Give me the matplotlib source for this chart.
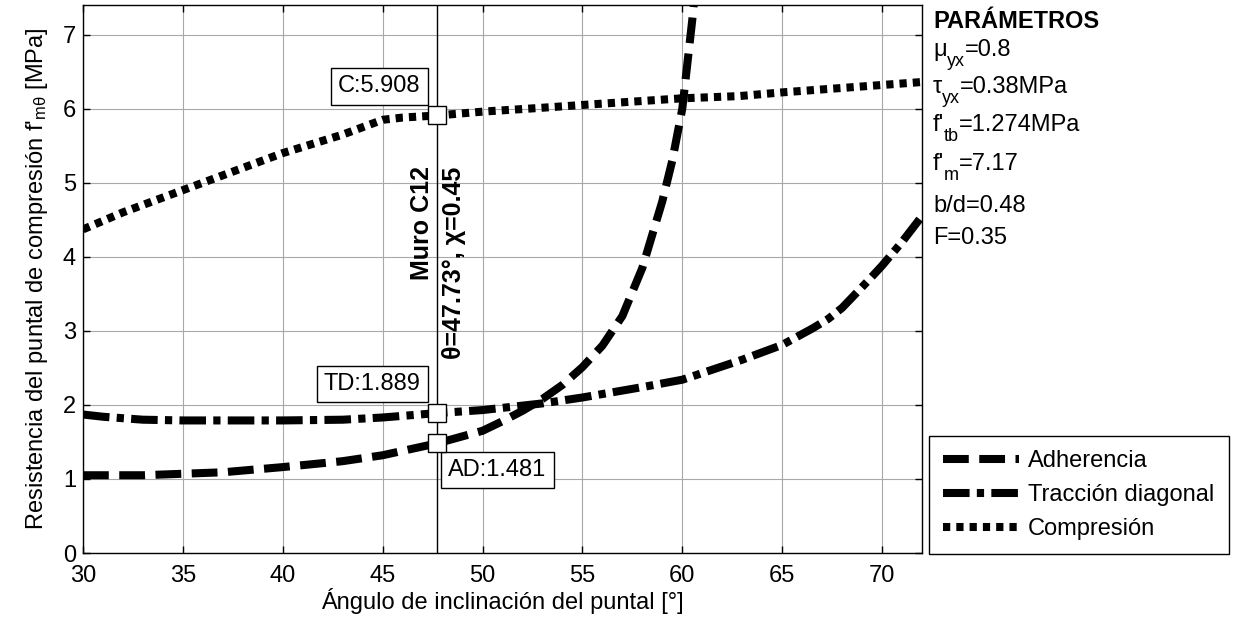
import matplotlib
matplotlib.use("Agg")
import matplotlib.pyplot as plt

plt.rcParams["font.family"] = ["Liberation Sans", "DejaVu Sans"]
plt.rcParams["mathtext.fontset"] = "custom"
plt.rcParams["mathtext.rm"] = "Liberation Sans"
plt.rcParams["mathtext.it"] = "Liberation Sans"
plt.rcParams["mathtext.default"] = "regular"

# Ángulo del puntal [°] y resistencia [MPa] para cada mecanismo
ang_ad = [30, 33, 35, 37, 40, 43, 45, 47.73, 50, 51, 52, 53, 54, 55, 56, 57, 58, 59, 59.5, 60, 60.5, 61]
res_ad = [1.05, 1.05, 1.07, 1.09, 1.16, 1.24, 1.32, 1.481, 1.65, 1.78, 1.92, 2.08, 2.27, 2.51, 2.8, 3.2,
          3.85, 4.75, 5.3, 6.0, 7.2, 8.6]

ang_td = [30, 31, 33, 35, 37, 40, 43, 45, 47.73, 50, 53, 55, 58, 60, 62, 63, 65, 66.5, 67.3, 68, 69.35, 70, 71, 72]
res_td = [1.87, 1.84, 1.8, 1.79, 1.79, 1.79, 1.8, 1.83, 1.889, 1.93, 2.02, 2.1, 2.24, 2.34, 2.52, 2.61,
          2.81, 3.03, 3.16, 3.31, 3.69, 3.88, 4.2, 4.55]

ang_c = [30, 32, 35, 38, 40, 43, 45, 46, 47.73, 50, 52.85, 55, 60, 62.85, 65, 70, 72]
res_c = [4.37, 4.6, 4.9, 5.2, 5.4, 5.65, 5.85, 5.88, 5.908, 5.96, 6.01, 6.05, 6.14, 6.17, 6.22, 6.32, 6.36]

# muro C12
theta = 47.73
chi = 0.45
val_c = 5.908
val_td = 1.889
val_ad = 1.481

# parámetros: (símbolo, subíndice, resto)
parametros = [("μ", "yx", "=0.8"), ("τ", "yx", "=0.38MPa"), ("f'", "tb", "=1.274MPa"),
              ("f'", "m", "=7.17"), ("b/d=0.48", "", ""), ("F=0.35", "", "")]

fs = 17
W, H = 1236, 625
fig = plt.figure(figsize=(W / 100, H / 100), dpi=100)
ax = fig.add_axes([83 / W, 72 / H, 839 / W, 548 / H])

lw = 5.8
ax.plot(ang_ad, res_ad, color="k", lw=lw, ls=(0, (3.2, 1.3)), label="Adherencia")
ax.plot(ang_td, res_td, color="k", lw=lw, ls=(0, (3.3, 0.9, 0.9, 0.9)), label="Tracción diagonal")
ax.plot(ang_c, res_c, color="k", lw=lw, ls=(0, (0.9, 0.75)), label="Compresión")

ax.axvline(theta, color="k", lw=1.0, zorder=3)
for v in [val_c, val_td, val_ad]:
    ax.plot(theta, v, marker="s", ms=13, mfc="white", mec="k", mew=1.0, zorder=5)

box = dict(boxstyle="square,pad=0.3", fc="white", ec="k", lw=1.0)
ax.annotate(f"C:{val_c:.3f}", (theta, val_c), xytext=(-12, 13), textcoords="offset points",
            ha="right", va="bottom", fontsize=fs, bbox=box)
ax.annotate(f"TD:{val_td:.3f}", (theta, val_td), xytext=(-12, 13), textcoords="offset points",
            ha="right", va="bottom", fontsize=fs, bbox=box)
ax.annotate(f"AD:{val_ad:.3f}", (theta, val_ad), xytext=(8, -11), textcoords="offset points",
            ha="left", va="top", fontsize=fs, bbox=box)

ax.text(theta - 0.75, 5.22, "Muro C12", rotation=90, ha="center", va="top",
        fontsize=18, fontweight="bold")
ax.text(theta + 0.85, 5.22, f"θ={theta:.2f}°, χ={chi:.2f}", rotation=90, ha="center", va="top",
        fontsize=18, fontweight="bold")

ax.set_xlim(30, 72)
ax.set_ylim(0, 7.4)
ax.set_xticks(range(30, 71, 5))
ax.set_yticks(range(0, 8))
ax.grid(True, color="#a8a8a8", lw=0.8)
ax.set_axisbelow(True)
ax.tick_params(direction="in", length=5, width=1, top=True, right=True, labelsize=fs)
ax.tick_params(axis="x", pad=9)
ax.tick_params(axis="y", pad=5)
for s in ax.spines.values():
    s.set_linewidth(1.0)

ax.set_xlabel("Ángulo de inclinación del puntal [°]", fontsize=fs, labelpad=0)
ax.set_ylabel("Resistencia del puntal de compresión f'$_{mθ}$ [MPa]", fontsize=fs, labelpad=9)

fig.legend(loc="upper left", bbox_to_anchor=(929 / W, 1 - 436 / H), fontsize=fs,
           handlelength=3.2, fancybox=False, framealpha=1, edgecolor="k", borderpad=0.6,
           labelspacing=0.5, handletextpad=0.4, borderaxespad=0)

# bloque de parámetros con subíndices
renderer = fig.canvas.get_renderer()
x0 = 933
fig.text(x0 / W, 1 - 28 / H, "PARÁMETROS", fontsize=fs, fontweight="bold", va="baseline")
bases = [56, 93, 131, 170, 212, 244]
for (sym, sub, rest), yb in zip(parametros, bases):
    t = fig.text(x0 / W, 1 - yb / H, sym, fontsize=fs, va="baseline")
    if not sub:
        continue
    xs = t.get_window_extent(renderer).x1
    ts = fig.text(xs / W, 1 - (yb + 10) / H, sub, fontsize=13, va="baseline")
    xr = ts.get_window_extent(renderer).x1
    fig.text(xr / W, 1 - yb / H, rest, fontsize=fs, va="baseline")

fig.savefig("out.png", dpi=100)
